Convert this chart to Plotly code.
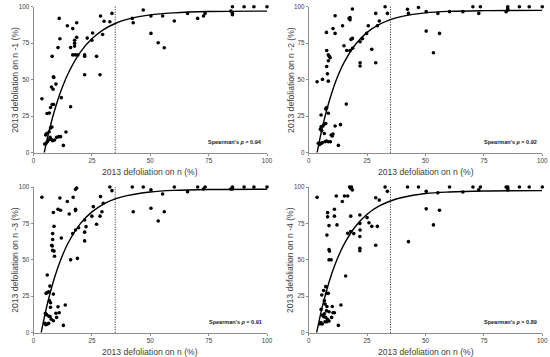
import plotly.graph_objects as go

# ---------------- data ----------------
# shared right-hand x values (same trees in every panel)
right_x = [42.3, 42.7, 47, 50.3, 50.3, 53.4, 55.3, 56, 60.3, 66, 70.3, 72.8, 73.5,
           84.5, 85.2, 85.2, 85.2, 90.2, 94.4, 100]

# panel n-1
p1_left_x = [3.6, 11, 14.5, 18.5, 16.8, 11.3, 10.5, 15.9, 17.6, 17.6, 17.6, 18.5, 16.8, 17.9, 19,
             21.9, 21.9, 23, 25, 25.3, 28.7, 30.2, 29.6, 27, 21.9, 28.5, 32.7, 33.6, 8, 8.5, 8.7,
             7.7, 9.6, 8.4, 11.9, 6.8, 5.8, 8, 8.6, 7.3, 15.9, 7.3, 7.9, 6.7, 5.2, 5.6, 6.5, 5.9,
             5.4, 4.8, 7.1, 7.6, 8.2, 9, 9.9, 10.8, 11.6, 12.8, 13.9]
p1_left_y = [37, 92, 87, 89, 85, 78, 72, 72, 77, 75, 73, 79, 67, 67, 67,
             67, 66, 78.5, 77, 82, 93.6, 90, 81, 66, 53.4, 53.4, 89.7, 95.4, 66, 52, 51.5,
             45, 47, 43.5, 37.7, 27.2, 26.8, 33, 33, 31, 31.5, 16.9, 17.6, 14.4, 12.1, 13.2, 8.7, 7.5,
             6.4, 5.9, 10.5, 9.1, 8.2, 8.7, 10.5, 11, 11, 5, 14.2]
p1_right_y = [92, 89, 97.7, 93.6, 81.7, 75.3, 93.6, 71.9, 90.2, 95.4, 92, 93.6, 95.4,
              97, 100, 95.4, 94.5, 100, 100, 100]

# panel n-2
p2_left_x = [3.6, 5.3, 5.9, 7.6, 7.7, 8.4, 8.8, 9.2, 8.4, 7.7, 8, 8.4, 7.3, 7.7, 10.4, 11.3, 11.3,
             14.5, 15.1, 16.3, 17.3, 17.7, 17.7, 18.7, 18.1, 18.7, 18.8, 17.7, 22, 23, 22, 22,
             24.8, 25.5, 27, 28.7, 28.7, 29.4, 30.2, 32.7, 33.7, 16.1, 8.4,
             4.1, 4.7, 5.3, 5.8, 5.3, 5, 5.6, 6.1, 6.7, 7.3, 6.7, 7, 7.6, 8.4, 9.3, 9.6, 10.1,
             10.4, 11.3, 13.6, 12.7]
p2_left_y = [48.6, 25.8, 50.2, 82.4, 70, 67, 66, 65, 63, 59, 54, 49, 30, 31, 85, 81.7, 93.8,
             87, 73.3, 70, 92, 91, 92.5, 98.4, 77.6, 78.3, 71.5, 70, 76, 78, 61.6, 59.4,
             81.7, 87, 70.8, 61.6, 95.4, 87, 90.2, 100, 95.4, 33.3, 27,
             6.4, 5.7, 6.4, 6.8, 17.8, 16, 15, 18.3, 19.6, 20, 13.2, 7.5, 8, 7.5, 7.5, 12.1, 11.4,
             12.8, 18.3, 19.2, 5]
p2_right_y = [98.2, 95.4, 99.5, 96.6, 83.3, 68.5, 95.4, 81.7, 96.6, 96.6, 100, 95.4, 100,
              96.6, 100, 98.4, 97.7, 100, 100, 100]

# panel n-3
p3_left_x = [3.6, 5.9, 5.4, 5.8, 7, 6.5, 8.5, 6.8, 7.3, 8, 7.8, 8.2, 8.8, 9, 8.2, 8.2, 8.8, 8.5,
             10.5, 11.6, 11.3, 11.9, 14.5, 15.3, 15.9, 16.8, 17, 18, 18.5, 18, 18, 18, 18.8, 19.3,
             21.9, 21.9, 21.9, 22.5, 25, 25.6, 27, 28.5, 28.7, 29.3, 29.9, 32.7, 33.6,
             4.8, 5.3, 5.9, 6.5, 5.1, 5.6, 6.5, 7.1, 7.6, 8.5, 9.6, 10.5, 11, 12.8, 13.6, 7.3, 9.9]
p3_left_y = [93, 39.6, 27, 27.5, 32, 28, 26.5, 22, 20.6, 59.5, 60, 56.5, 56, 52.5, 64, 68, 73, 82.5,
             84.7, 84, 92.5, 65, 90, 81.5, 50, 68, 93, 98.4, 99.3, 84.7, 83.8, 70.5, 51, 72,
             77.3, 69, 63, 72.8, 80, 86.5, 74.4, 80, 93.4, 83, 88.8, 100, 97.5,
             6.4, 5.5, 5.9, 6.4, 13.3, 12.4, 11.4, 11, 9.2, 8.2, 13.3, 17.8, 13.7, 5, 19, 17.4, 10.5]
p3_right_y = [100, 83, 100, 98, 85.4, 76.7, 95.2, 83, 100, 96.8, 100, 98.6, 100,
              98.6, 100, 98.6, 99.3, 100, 100, 100]

# panel n-4
p4_left_x = [3.6, 5.6, 6.4, 7.3, 7.7, 8.1, 8.1, 8.7, 7.8, 8.7, 8.9, 8.7, 9.6, 11, 11, 12.1, 11.8,
             14.4, 15.3, 16.7, 15.8, 16.7, 17.5, 18.3, 18, 18.7, 18, 18, 19.3, 21.9, 21.9, 22,
             21.9, 21.9, 21.9, 25, 25.8, 27, 28.7, 28.7, 29.4, 30.2, 32.7, 33.7,
             5.3, 6.7, 7, 7.8, 8.7, 7.6, 6.7, 5.8, 6.4, 7.3, 8.1, 8.7, 4.7, 5.2, 5.8, 7, 7.8,
             9.8, 10.4, 10.1, 11, 13.8, 12.7, 8.4]
p4_left_y = [92.9, 25.9, 29, 31.6, 27, 82.4, 79.5, 73.5, 67, 57, 56, 50, 50, 84.7, 80, 74, 93.8,
             90, 93.8, 93.8, 38.9, 68.2, 100, 100, 99, 98, 80, 69.5, 68, 80.8, 75, 70.5,
             58, 56.3, 66, 79, 75.5, 73, 60, 92.6, 73, 91, 100, 97,
             16, 22, 19.7, 18, 14.4, 15, 13, 12, 11, 10.5, 9, 8, 6, 7, 6, 7.5, 7.5,
             10.5, 13.7, 18, 13.7, 19, 5, 27]
p4_right_y = [100, 62.5, 100, 97, 85, 74, 96, 84, 100, 96.6, 100, 98, 100,
              100, 100, 98, 99, 100, 100, 100]

# fitted curves, read at these x positions
c1_x = [4.6, 6, 8, 10, 12, 15, 20, 25, 30, 35, 40, 50, 60, 75, 100]
c1_y = [0, 10.3, 23.1, 34.0, 43.4, 54.8, 68.7, 78.0, 84.3, 88.5, 91.3, 94.4, 95.8, 96.7, 97.0]
c2_x = [3.6, 5, 6, 8, 10, 12, 15, 20, 25, 30, 35, 40, 50, 60, 75, 100]
c2_y = [0, 11.2, 18.4, 31.0, 41.6, 50.6, 61.3, 74.1, 82.4, 87.7, 91.2, 93.4, 95.8, 96.8, 97.3, 97.5]
c3_x = [3.3, 5, 6, 8, 10, 12, 15, 20, 25, 30, 35, 40, 50, 60, 75, 100]
c3_y = [0, 13.2, 20.2, 32.4, 42.7, 51.5, 62.1, 74.7, 82.9, 88.3, 91.8, 94.1, 96.6, 97.7, 98.3, 98.5]
c4_x = [3.4, 5, 6, 8, 10, 12, 15, 20, 25, 30, 35, 40, 50, 60, 75, 100]
c4_y = [0, 12.1, 18.9, 30.9, 41.1, 49.7, 60.3, 72.9, 81.3, 86.8, 90.4, 92.8, 95.5, 96.6, 97.3, 97.5]

y_titles = ["2013 defoliation on n -1 (%)", "2013 defoliation on n -2 (%)",
            "2013 defoliation on n -3 (%)", "2013 defoliation on n -4 (%)"]
x_title = "2013 defoliation on n (%)"
rho_values = ["0.94", "0.92", "0.91", "0.89"]
tick_vals = [0, 25, 50, 75, 100]
tick_text = ["0", "25", "50", "75", "100"]
threshold_x = 35

# ---------------- figure ----------------
W, H = 550, 357
FONT = "Liberation Sans, Arial, sans-serif"

panels = [
    (p1_left_x + right_x, p1_left_y + p1_right_y, c1_x, c1_y),
    (p2_left_x + right_x, p2_left_y + p2_right_y, c2_x, c2_y),
    (p3_left_x + right_x, p3_left_y + p3_right_y, c3_x, c3_y),
    (p4_left_x + right_x, p4_left_y + p4_right_y, c4_x, c4_y),
]

# plot-area pixel boxes (left, right, top, bottom)
boxes = [(33.5, 267, 6.7, 152.7), (308.7, 542.3, 6.7, 152.7),
         (33.5, 267, 187, 332.7), (308.7, 542.3, 187, 332.7)]

fig = go.Figure()
layout = dict(width=W, height=H, margin=dict(l=0, r=0, t=0, b=0, autoexpand=False),
              paper_bgcolor="white", plot_bgcolor="white", showlegend=False,
              font=dict(family=FONT, color="#404040"))
annotations = []
shapes = []
for i, ((px, py, cx, cy), (l, r, t, b)) in enumerate(zip(panels, boxes)):
    k = "" if i == 0 else str(i + 1)
    xa, ya = "x" + k, "y" + k
    fig.add_trace(go.Scatter(x=cx, y=cy, mode="lines", xaxis=xa, yaxis=ya,
                             line=dict(color="black", width=1.4, shape="spline", smoothing=1),
                             cliponaxis=False))
    fig.add_trace(go.Scatter(x=px, y=py, mode="markers", xaxis=xa, yaxis=ya,
                             marker=dict(color="black", size=3.6), cliponaxis=False))
    axcommon = dict(range=[0, 100], tickvals=tick_vals, ticktext=tick_text,
                    showgrid=False, zeroline=False, showline=True, linecolor="#8c8c8c",
                    linewidth=1, ticks="outside", ticklen=2, tickcolor="#8c8c8c",
                    tickfont=dict(size=6.3, color="#404040", family=FONT), fixedrange=True,
                    automargin=False)
    layout["xaxis" + k] = dict(axcommon, domain=[l / W, r / W], anchor=ya)
    layout["yaxis" + k] = dict(axcommon, domain=[1 - b / H, 1 - t / H], anchor=xa)
    shapes.append(dict(type="line", xref=xa, yref=ya + " domain", x0=threshold_x, x1=threshold_x,
                       y0=0, y1=1, line=dict(color="black", width=0.9, dash="1px,1.5px")))
    annotations.append(dict(xref=xa, yref=ya, x=98.5, y=7.5, xanchor="right", yanchor="middle",
                            showarrow=False,
                            text="<b>Spearman's <i>ρ</i> = " + rho_values[i] + "</b>",
                            font=dict(size=5.5, color="#202020", family=FONT)))
    # axis titles
    annotations.append(dict(xref="paper", yref="paper", x=((l + r) / 2) / W,
                            y=1 - (b + 19.5) / H, xanchor="center", yanchor="middle",
                            showarrow=False, text=x_title,
                            font=dict(size=8.6, color="#404040", family=FONT)))
    annotations.append(dict(xref="paper", yref="paper", x=(l - 18.5) / W,
                            y=1 - ((t + b) / 2) / H, xanchor="center", yanchor="middle",
                            showarrow=False, text=y_titles[i], textangle=-90,
                            font=dict(size=8.6, color="#404040", family=FONT)))

layout["annotations"] = annotations
layout["shapes"] = shapes
fig.update_layout(**layout)
fig.write_html("out.html", config={"displayModeBar": False},
               post_script="document.body.style.margin='0';document.body.style.overflow='hidden';")
